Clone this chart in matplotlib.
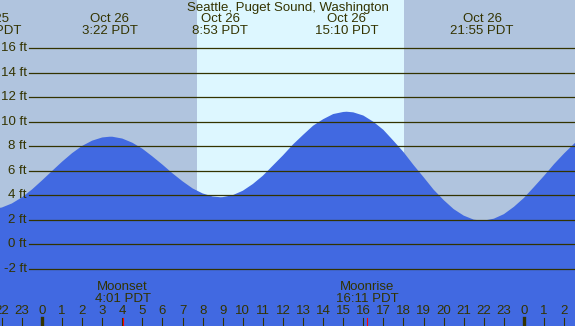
import matplotlib
matplotlib.use("Agg")
import matplotlib.pyplot as plt
import matplotlib.transforms as mtransforms

# tide readings, hours from midnight Oct 26 (PDT) and height in ft
tide_hours = [-3, -2.6, -2, -1.5, -1, -0.5, 0, 0.5, 1, 1.5, 2, 2.5, 3, 3.37, 3.5, 4,
              4.5, 5, 5.5, 6, 6.5, 7, 7.5, 8, 8.5, 8.88, 9, 9.5, 10, 10.5, 11, 11.5,
              12, 12.5, 13, 13.5, 14, 14.5, 15, 15.17, 15.5, 16, 16.5, 17, 17.5, 18,
              18.5, 19, 19.5, 20, 20.5, 21, 21.5, 21.92, 22, 22.5, 23, 23.5, 24, 24.5,
              25, 25.5, 26, 26.5, 27]
tide_ft = [2.87, 2.85, 3.00, 3.33, 3.83, 4.47, 5.21, 5.98, 6.74, 7.44, 8.03, 8.46, 8.72,
           8.78, 8.78, 8.63, 8.29, 7.80, 7.17, 6.50, 5.79, 5.14, 4.56, 4.15, 3.90, 3.84,
           3.85, 4.01, 4.37, 4.92, 5.60, 6.43, 7.26, 8.15, 8.93, 9.68, 10.21, 10.63,
           10.80, 10.82, 10.77, 10.51, 10.00, 9.34, 8.45, 7.53, 6.47, 5.48, 4.46, 3.61,
           2.87, 2.34, 2.01, 1.93, 1.93, 2.09, 2.46, 3.06, 3.79, 4.68, 5.59, 6.55, 7.42,
           8.22, 8.83]

# high / low tide labels
extreme_hours = [-2.6, 3.367, 8.883, 15.167, 21.917]
extreme_dates = ["Oct 25", "Oct 26", "Oct 26", "Oct 26", "Oct 26"]
extreme_times = ["21:24 PDT", "3:22 PDT", "8:53 PDT", "15:10 PDT", "21:55 PDT"]

# sunrise / sunset
sunrise = 7.72
sunset = 18.03

# moon events
moon_hours = [4.017, 16.183]
moon_names = ["Moonset", "Moonrise"]
moon_times = ["4:01 PDT", "16:11 PDT"]

hour_ticks = list(range(-2, 27))
ft_levels = [-2, 0, 2, 4, 6, 8, 10, 12, 14, 16]

title = "Seattle, Puget Sound, Washington"

night = "#b0c4de"
day = "#ddf7ff"
water = "#4169e1"
ink = "#333300"

W, H = 575, 326
fig = plt.figure(figsize=(W / 100, H / 100), dpi=100)
ax = fig.add_axes([0, 0, 1, 1])
x0, x1 = -2.09, 26.54
y0, y1 = -6.67, 19.94
ax.set_xlim(x0, x1)
ax.set_ylim(y0, y1)
ax.axis("off")

ax.axvspan(x0, sunrise, color=night, lw=0, zorder=0)
ax.axvspan(sunrise, sunset, color=day, lw=0, zorder=0)
ax.axvspan(sunset, x1, color=night, lw=0, zorder=0)

ax.fill_between(tide_hours, tide_ft, y0 - 1, color=water, lw=0, zorder=1)

plt.rcParams["font.family"] = ["Liberation Sans", "DejaVu Sans"]
fs = 9.5

# horizontal grid with ft labels
px = (x1 - x0) / W
for lv in ft_levels:
    ax.plot([x0 + 29 * px, x1], [lv, lv], color=ink, lw=0.9, zorder=2)
    ax.text(x0 + 27 * px, lv, "%d ft" % lv, ha="right", va="center",
            fontsize=fs, color=ink, zorder=3)

trans = mtransforms.blended_transform_factory(ax.transData, ax.transAxes)


def yfrac(ypix):
    return 1 - ypix / H


ax.text(0.5, yfrac(8), title, transform=ax.transAxes, ha="center", va="center",
        fontsize=fs, color=ink, zorder=3)

for t, d, s in zip(extreme_hours, extreme_dates, extreme_times):
    ax.text(t, yfrac(19), d, transform=trans, ha="center", va="center",
            fontsize=fs, color=ink, zorder=3)
    ax.text(t, yfrac(31), s, transform=trans, ha="center", va="center",
            fontsize=fs, color=ink, zorder=3)

for t, n, s in zip(moon_hours, moon_names, moon_times):
    ax.text(t, yfrac(287), n, transform=trans, ha="center", va="center",
            fontsize=fs, color=ink, zorder=3)
    ax.text(t, yfrac(299), s, transform=trans, ha="center", va="center",
            fontsize=fs, color=ink, zorder=3)
    ax.axvline(t, ymin=0, ymax=8 / H, color="red", lw=0.8, zorder=4)

for h in hour_ticks:
    ax.text(h, yfrac(311), str(h % 24), transform=trans, ha="center", va="center",
            fontsize=fs, color=ink, zorder=3)
    lw = 2.4 if h % 24 == 0 else 0.8
    ax.axvline(h, ymin=0, ymax=8 / H, color=ink, lw=lw, zorder=3)

fig.savefig("out.png", dpi=100)
